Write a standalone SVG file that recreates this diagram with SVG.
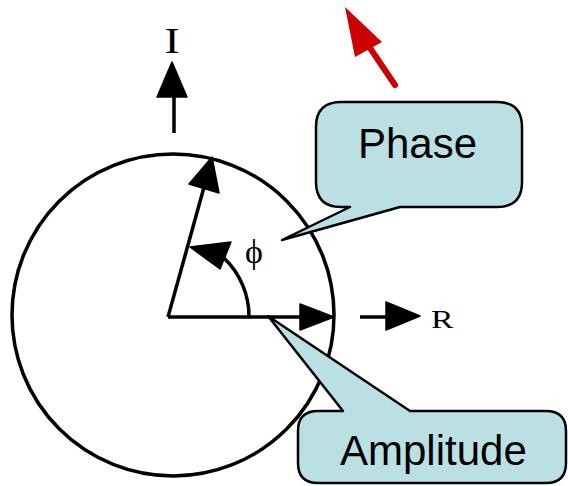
<svg xmlns="http://www.w3.org/2000/svg" width="568" height="486" viewBox="0 0 568 486">
<style>
.ln{stroke:#000;stroke-width:3.5;fill:none}
.hd{fill:#000;stroke:#000;stroke-width:1.5;stroke-linejoin:round}
.co{fill:#bae0e3;stroke:#000;stroke-width:2.5;stroke-linejoin:round}
.ct{font-family:"Liberation Sans",Arial,sans-serif;font-size:42px;fill:#000}
.ser{font-family:"Liberation Serif","Times New Roman",serif;fill:#000}
</style>
<rect width="568" height="486" fill="#fff"/>
<g id="circle">
<circle cx="173" cy="315" r="161" class="ln"/>
</g>
<g id="connectors">
<line x1="168" y1="317" x2="305" y2="317" class="ln"/>
<polygon points="334,317 300,304 300,330" class="hd"/>
<line x1="168" y1="317" x2="206" y2="180" class="ln"/>
<polygon points="212,157 189,184 219,193" class="hd"/>
<path d="M249,317 A81,81 0 0,0 224,258" class="ln"/>
<polygon points="190,247 231,242 220,269" class="hd"/>
<line x1="174" y1="133" x2="174" y2="95" class="ln"/>
<polygon points="172,62 157,97 187,97" class="hd"/>
<line x1="360" y1="317" x2="390" y2="317" class="ln"/>
<polygon points="420,316 386,302 386,330" class="hd"/>
<line x1="395" y1="85" x2="368" y2="45" stroke="#cc0000" stroke-width="6" stroke-linecap="round"/>
<polygon points="345,7 382,42 355,57" fill="#cc0000"/>
</g>
<g id="axis-I">
<text x="0" y="53" class="ser" font-size="35" text-anchor="middle" transform="translate(172 0) scale(1.3 1)">I</text>
</g>
<g id="axis-R">
<text x="0" y="328" class="ser" font-size="25" transform="translate(431 0) scale(1.35 1)">R</text>
</g>
<g id="phi">
<text x="254" y="263" class="ser" font-size="34" text-anchor="middle">ϕ</text>
</g>
<g id="phase">
<path d="M341,102 H497 Q522,102 522,127 V182 Q522,207 497,207 H400 L282,240 L350,207 H341 Q316,207 316,182 V127 Q316,102 341,102 Z" class="co"/>
<text x="358" y="158" class="ct">Phase</text>
</g>
<g id="amplitude">
<path d="M318,411 H343 L268,316 L410,411 H546 Q566,411 566,431 V463 Q566,483 546,483 H318 Q298,483 298,463 V431 Q298,411 318,411 Z" class="co"/>
<text x="340" y="465" class="ct">Amplitude</text>
</g>
</svg>
